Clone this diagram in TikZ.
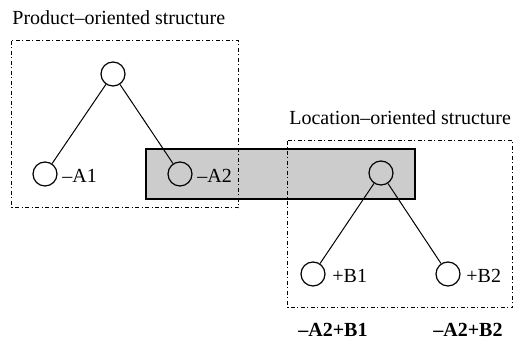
\documentclass[tikz,border=0pt]{standalone}
\usepackage{fontspec}
\setmainfont{Liberation Serif}
\begin{document}
\begin{tikzpicture}[x=0.5pt,y=-0.5pt,
  font=\fontsize{10}{12}\selectfont,
  vert/.style={circle,draw,line width=0.6pt,minimum size=12pt,inner sep=0pt},
  edge/.style={line width=0.5pt},
  group/.style={draw,line width=0.5pt,dash pattern=on 2pt off 1.25pt on 0.5pt off 1.25pt},
  band/.style={draw,fill=gray!40,line width=0.6pt},
  lbl/.style={anchor=base west,inner sep=0pt}]
\useasboundingbox (0,0) rectangle (516,356);

% shared element band
\draw[band] (146,149) rectangle (415,199);

% structure frames
\draw[group] (12,41) rectangle (239,208);
\draw[group] (288,141) rectangle (513,308);

% titles
\node[lbl] (ptitle) at (12,25) {Product\textendash oriented structure};
\node[lbl] (ltitle) at (289,125) {Location\textendash oriented structure};

% product tree
\node[vert] (pr) at (113,74) {};
\node[vert] (a1) at (45,174) {};
\node[vert] (a2) at (180,174) {};
\draw[edge] (pr) -- (a1);
\draw[edge] (pr) -- (a2);
\node[lbl] (la1) at (62,183) {\textendash A1};
\node[lbl] (la2) at (197,183) {\textendash A2};

% location tree
\node[vert] (lr) at (381,173) {};
\node[vert] (b1) at (313,274) {};
\node[vert] (b2) at (448,274) {};
\draw[edge] (lr) -- (b1);
\draw[edge] (lr) -- (b2);
\node[lbl] (lb1) at (332,283) {+B1};
\node[lbl] (lb2) at (466,283) {+B2};

% combined designations
\node[lbl,font=\fontsize{10}{12}\selectfont\bfseries] (c1) at (298,337) {\textendash A2+B1};
\node[lbl,font=\fontsize{10}{12}\selectfont\bfseries] (c2) at (433,337) {\textendash A2+B2};
\end{tikzpicture}
\end{document}
